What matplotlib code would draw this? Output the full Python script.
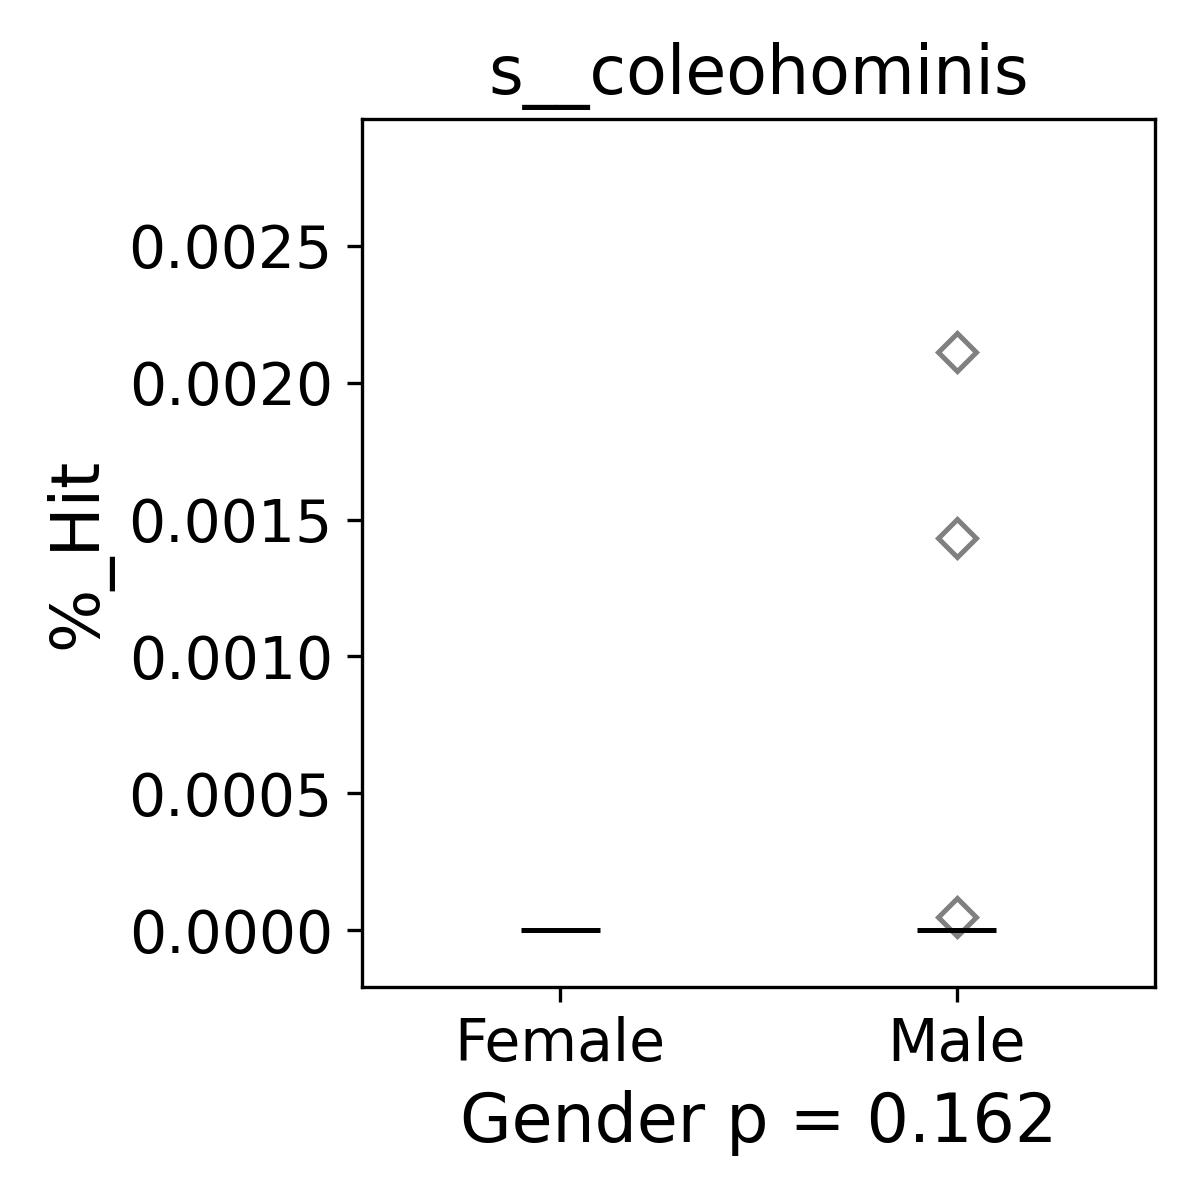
import matplotlib
matplotlib.use("Agg")
import matplotlib.pyplot as plt
import numpy as np

categories = ["Female", "Male"]
female_values = [0.0] * 20
male_values = [0.0] * 17 + [0.0000475, 0.001433, 0.002113]
title = "s__coleohominis"
xlabel = "Gender p = 0.162"
ylabel = "%_Hit"

fig = plt.figure(figsize=(4, 4), dpi=300)
ax = fig.add_axes([362/1200, 1 - 987/1200, (1155-362)/1200, (987-119)/1200])

bp = ax.boxplot([female_values, male_values], positions=[0, 1], widths=0.2,
                patch_artist=True, showcaps=True,
                boxprops=dict(facecolor="none", edgecolor="none"),
                whiskerprops=dict(color="black", linewidth=1),
                capprops=dict(color="black", linewidth=1),
                medianprops=dict(color="black", linewidth=1.2, zorder=5),
                flierprops=dict(marker="D", markersize=6.5, markerfacecolor="none",
                                markeredgecolor="gray", markeredgewidth=1.2, zorder=3))
for c in bp["caps"]:
    c.set_visible(False)
for w in bp["whiskers"]:
    w.set_visible(False)

ax.set_xlim(-0.5, 1.5)
ax.set_ylim(-0.000208, 0.002964)
ax.set_xticks([0, 1])
ax.set_xticklabels(categories)
ax.set_yticks([0, 0.0005, 0.001, 0.0015, 0.002, 0.0025])
ax.set_yticklabels(["0.0000", "0.0005", "0.0010", "0.0015", "0.0020", "0.0025"])
ax.tick_params(labelsize=14)
ax.set_title(title, fontsize=16)
ax.set_xlabel(xlabel, fontsize=16)
ax.set_ylabel(ylabel, fontsize=16)

fig.savefig("out.png", dpi=300)
